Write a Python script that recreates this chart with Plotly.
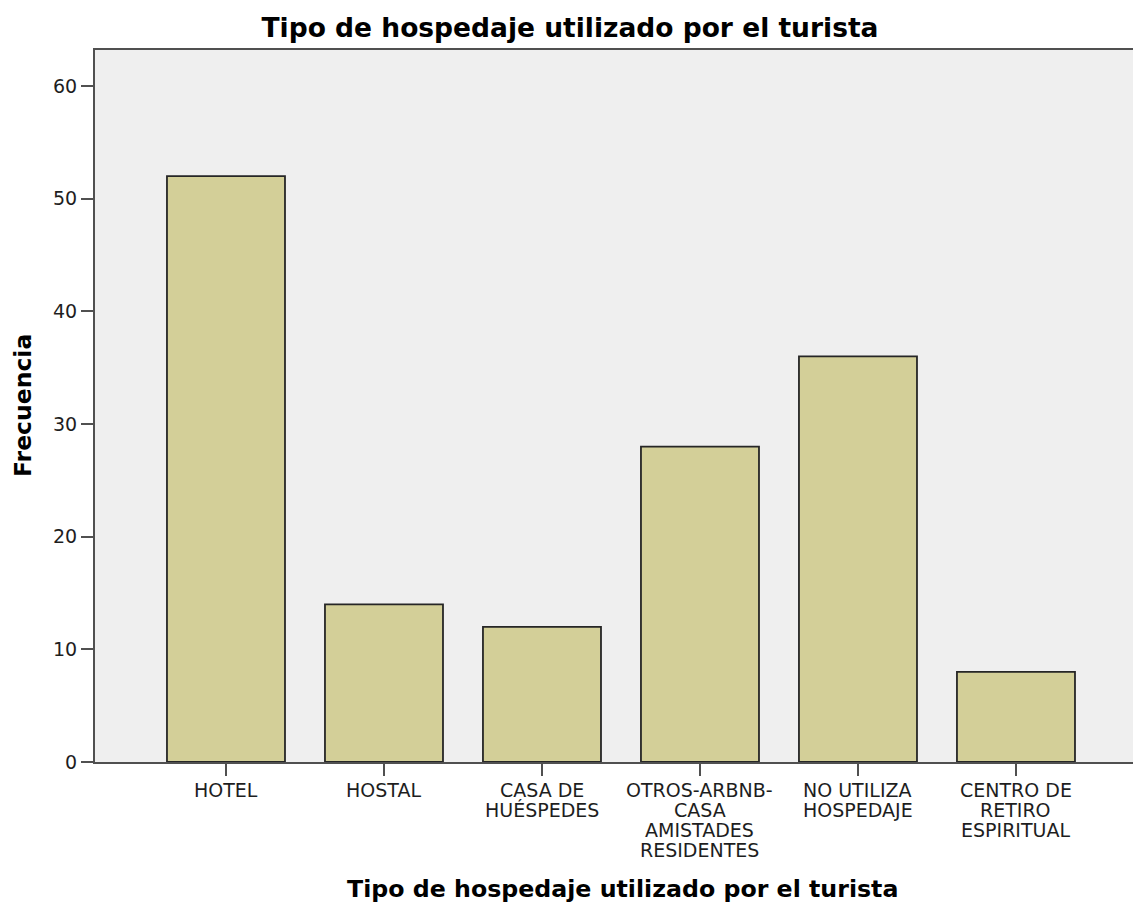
import plotly.graph_objects as go

categories = ["HOTEL", "HOSTAL", "CASA DE<br>HUÉSPEDES", "OTROS-ARBNB-<br>CASA<br>AMISTADES<br>RESIDENTES",
              "NO UTILIZA<br>HOSPEDAJE", "CENTRO DE<br>RETIRO<br>ESPIRITUAL"]
frecuencia = [52, 14, 12, 28, 36, 8]
y_ticks = [0, 10, 20, 30, 40, 50, 60]

title_text = "Tipo de hospedaje utilizado por el turista"
x_title = "Tipo de hospedaje utilizado por el turista"
y_title = "Frecuencia"

FONT = "DejaVu Sans"
TXT = "#1e1e1e"
AX = "#505050"

# page has an 8px body margin
W, H = 1141, 899

fig = go.Figure()
fig.add_trace(go.Bar(
    x=list(range(len(categories))),
    y=frecuencia,
    width=0.747,
    marker=dict(color="#D3CF98", line=dict(color="#262626", width=1.8)),
))

annotations = []
for i, cat in enumerate(categories):
    for j, line in enumerate(cat.split("<br>")):
        annotations.append(dict(
            x=i, y=0, xref="x", yref="y", text=line, showarrow=False,
            xanchor="center", yanchor="middle", yshift=-28 - 20 * j,
            font=dict(family=FONT, size=19, color=TXT),
        ))

annotations.append(dict(
    x=527 / (W - 87), y=0, xref="paper", yref="paper", text="<b>" + x_title + "</b>",
    showarrow=False, xanchor="center", yanchor="middle", yshift=-127,
    font=dict(family=FONT, size=23.7, color="#000"),
))
annotations.append(dict(
    x=0, y=0.5, xref="paper", yref="paper", text="<b>" + y_title + "</b>",
    showarrow=False, xanchor="center", yanchor="middle", xshift=-72, textangle=-90,
    font=dict(family=FONT, size=23.5, color="#000"),
))

fig.update_layout(
    width=W, height=H,
    margin=dict(l=87, r=0, t=42, b=145),
    paper_bgcolor="white",
    plot_bgcolor="#EFEFEF",
    showlegend=False,
    title=dict(text="<b>" + title_text + "</b>", x=562 / W, xref="container", xanchor="center",
               y=1 - 20 / H, yref="container", yanchor="middle",
               font=dict(family=FONT, size=26.5, color="#000")),
    annotations=annotations,
    xaxis=dict(
        range=[-0.829, 5.842],
        tickmode="array", tickvals=list(range(len(categories))), ticktext=[""] * len(categories),
        showticklabels=False,
        ticks="outside", ticklen=12, tickwidth=2, tickcolor=AX,
        showline=True, linecolor=AX, linewidth=2, mirror=True,
        showgrid=False, zeroline=False,
    ),
    yaxis=dict(
        range=[0, 63.2],
        tickmode="array", tickvals=y_ticks, ticktext=[str(v) for v in y_ticks],
        ticks="outside", ticklen=12, tickwidth=2, tickcolor=AX,
        tickfont=dict(family=FONT, size=19, color=TXT),
        showline=True, linecolor=AX, linewidth=2,
        showgrid=False, zeroline=False,
    ),
)

fig.write_html("out.html")
